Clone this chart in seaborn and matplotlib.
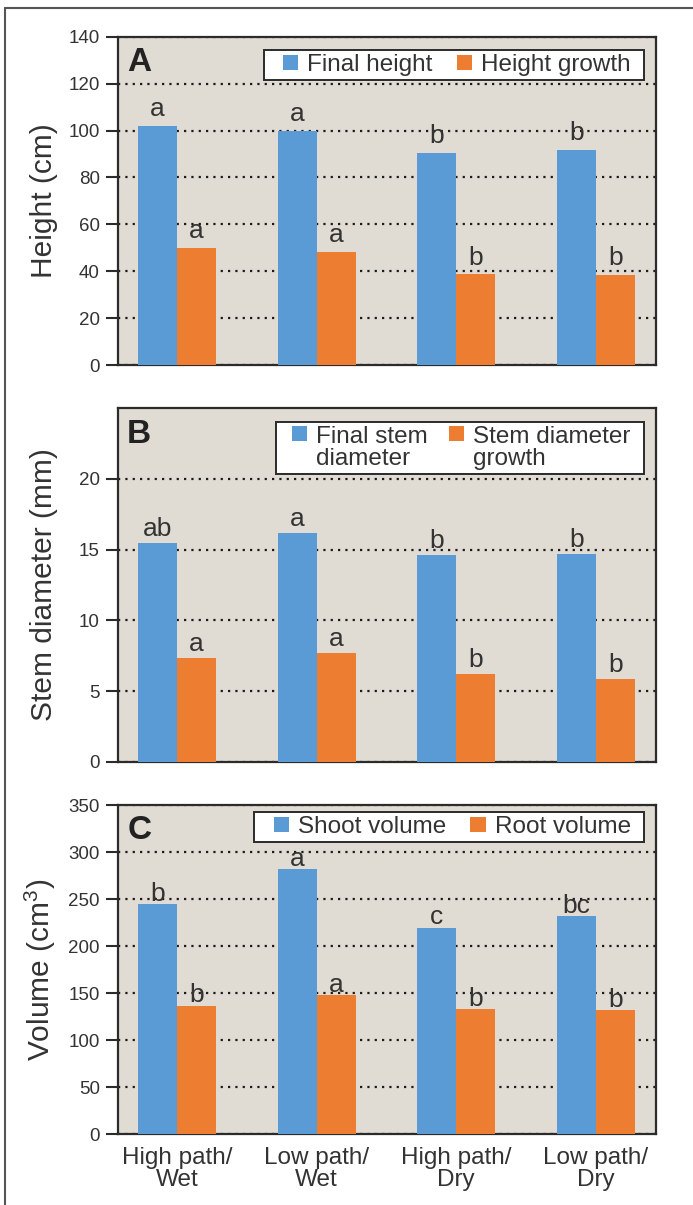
import numpy as np
import pandas as pd
import matplotlib
matplotlib.use("Agg")
import matplotlib.pyplot as plt
import matplotlib.patches as mpatches
from matplotlib.legend_handler import HandlerPatch
from matplotlib.lines import Line2D
from matplotlib.offsetbox import DrawingArea
import seaborn as sns

# ---------------- data ----------------
groups = ["High path/\nWet", "Low path/\nWet", "High path/\nDry", "Low path/\nDry"]

height_final = [102.0, 99.9, 90.5, 91.8]
height_growth = [49.8, 48.3, 38.7, 38.4]
height_final_letters = ["a", "a", "b", "b"]
height_growth_letters = ["a", "a", "b", "b"]

stem_final = [15.46, 16.15, 14.63, 14.68]
stem_growth = [7.34, 7.70, 6.2, 5.85]
stem_final_letters = ["ab", "a", "b", "b"]
stem_growth_letters = ["a", "a", "b", "b"]

shoot_volume = [244.4, 282.0, 219.6, 231.7]
root_volume = [136.4, 147.7, 132.8, 132.1]
shoot_letters = ["b", "a", "c", "bc"]
root_letters = ["b", "a", "b", "b"]

panels = [
    dict(tag="A", series=["Final height", "Height growth"], values=[height_final, height_growth],
         letters=[height_final_letters, height_growth_letters], ylabel="Height (cm)",
         ylim=(0, 140), yticks=[0, 20, 40, 60, 80, 100, 120, 140]),
    dict(tag="B", series=["Final stem\ndiameter", "Stem diameter\ngrowth"], values=[stem_final, stem_growth],
         letters=[stem_final_letters, stem_growth_letters], ylabel="Stem diameter (mm)",
         ylim=(0, 25), yticks=[0, 5, 10, 15, 20]),
    dict(tag="C", series=["Shoot volume", "Root volume"], values=[shoot_volume, root_volume],
         letters=[shoot_letters, root_letters], ylabel="Volume (cm$^3$)",
         ylim=(0, 350), yticks=[0, 50, 100, 150, 200, 250, 300, 350]),
]

# ---------------- style ----------------
BLUE = "#5B9BD5"
ORANGE = "#ED7D31"
BG = "#E1DCD3"
DARK = "#2b2b2b"
TXT = "#333333"

sns.set_theme(style="white")
plt.rcParams["font.family"] = ["Liberation Sans", "DejaVu Sans"]
plt.rcParams["mathtext.fontset"] = "custom"
plt.rcParams["mathtext.rm"] = "Liberation Sans"
plt.rcParams["mathtext.it"] = "Liberation Sans"

W, H = 693, 1205
fig = plt.figure(figsize=(W / 100, H / 100), dpi=100)
fig.patch.set_facecolor("white")

AX_L, AX_R = 118, 656
left, width = AX_L / W, (AX_R - AX_L) / W
boxes = [(36.7, 365.0), (408.3, 761.7), (805.0, 1134.3)]
legend_tops = [50.0, 421.7, 812.0]      # pixel y of legend box tops
legend_right = 644.0                    # pixel x of legend box right edges
letter_offsets = [7.0, 5.0, 2.5]        # points between bar top and letter baseline


def make_handler(multiline):
    def patch_func(legend, orig_handle, xdescent, ydescent, width, height, fontsize):
        sq = 0.62 * fontsize
        y0 = -ydescent + (0.62 * fontsize if multiline else 0.0)
        return mpatches.Rectangle((-xdescent + width - sq, y0), sq, sq)
    return HandlerPatch(patch_func=patch_func)


for i, (p, (top, bot)) in enumerate(zip(panels, boxes)):
    ax = fig.add_axes([left, 1 - bot / H, width, (bot - top) / H])
    df = pd.DataFrame({
        "group": np.repeat(groups, 2),
        "series": p["series"] * len(groups),
        "value": np.ravel(np.column_stack(p["values"])),
    })
    sns.barplot(data=df, x="group", y="value", hue="series", hue_order=p["series"],
                order=groups, palette=[BLUE, ORANGE], width=0.56, gap=0, saturation=1,
                errorbar=None, legend=False, ax=ax, zorder=3, linewidth=0)
    ax.set_facecolor(BG)
    ax.set_axisbelow(True)
    ax.set_xlim(-0.422, 3.43)
    ax.set_ylim(*p["ylim"])
    ax.set_yticks(p["yticks"])
    ax.yaxis.grid(True, color="#1a1a1a", linestyle=(0, (1, 2.3)), linewidth=1.6, zorder=0)
    ax.xaxis.grid(False)
    for s in ax.spines.values():
        s.set_color(DARK)
        s.set_linewidth(1.6)
        s.set_visible(True)
    ax.tick_params(axis="y", direction="out", length=9, width=1.5, color=DARK,
                   labelsize=13.5, labelcolor=TXT, pad=4, left=True)
    ax.tick_params(axis="x", length=0, labelsize=17.5, labelcolor=TXT, pad=9)
    ax.set_xlabel("")
    ax.set_ylabel(p["ylabel"], fontsize=21.5, color=TXT)
    ax.yaxis.set_label_coords((58 - AX_L) / (AX_R - AX_L), 0.5)
    if i < 2:
        ax.set_xticklabels([])
    else:
        for t in ax.get_xticklabels():
            t.set_linespacing(1.0)

    # significance letters above bars
    for cont, lets in zip(ax.containers, p["letters"]):
        for bar, lt in zip(cont, lets):
            ax.annotate(lt, xy=(bar.get_x() + bar.get_width() / 2, bar.get_height()),
                        xytext=(0, letter_offsets[i]), textcoords="offset points",
                        ha="center", va="baseline", fontsize=19, color=TXT, zorder=5)

    # panel tag
    ax.text(0.017, 0.97, p["tag"], transform=ax.transAxes, fontsize=24, fontweight="bold",
            color="#222222", ha="left", va="top")

    handles = [mpatches.Patch(facecolor=BLUE, edgecolor="none"),
               mpatches.Patch(facecolor=ORANGE, edgecolor="none")]
    hmap = {h: make_handler(i == 1) for h in handles}
    bx = (legend_right - AX_L) / (AX_R - AX_L)
    by = 1 - (legend_tops[i] - top) / (bot - top)
    leg = ax.legend(handles, p["series"], loc="upper right", bbox_to_anchor=(bx, by),
                    ncol=2, fontsize=17.5, frameon=True, fancybox=False, framealpha=1,
                    edgecolor=DARK, facecolor="white", borderpad=0.17, borderaxespad=0,
                    handlelength=1.25 if i != 1 else 1.1, handleheight=0.62,
                    handletextpad=0.37, columnspacing=0.38 if i != 1 else 0.4,
                    labelspacing=0.2, handler_map=hmap)
    leg.get_frame().set_linewidth(1.4)
    leg.set_zorder(6)
    for t in leg.get_texts():
        t.set_color(TXT)
        t.set_linespacing(1.0)
    # extra right-hand padding inside the legend frame (one column gap)
    try:
        leg._legend_handle_box._children.append(DrawingArea(0.0, 0.0))
    except Exception:
        pass

# outer frame lines
fig.add_artist(Line2D([5 / W, 1.0], [1 - 8 / H, 1 - 8 / H], transform=fig.transFigure,
                      color="#555555", lw=1.5))
fig.add_artist(Line2D([5 / W, 5 / W], [1 - 8 / H, 0.0], transform=fig.transFigure,
                      color="#555555", lw=1.5))

fig.savefig("out.png", dpi=100)
